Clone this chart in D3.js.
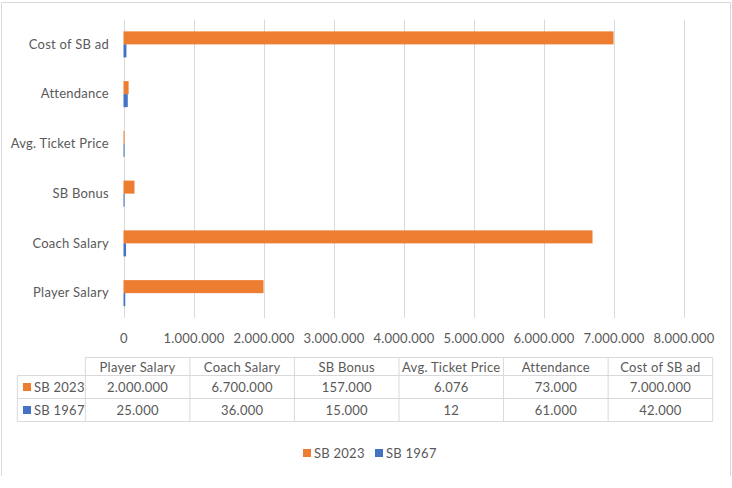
<!DOCTYPE html>
<html>
<head>
<meta charset="utf-8">
<script src="https://cdn.jsdelivr.net/npm/d3@7/dist/d3.min.js"></script>
<style>
  html, body { margin: 0; padding: 0; background: #fff; }
  svg { display: block; font-family: Lato, Calibri, "Liberation Sans", sans-serif; }
  svg text { letter-spacing: 0.25px; }
</style>
</head>
<body>
<svg id="chart" width="732" height="488"></svg>
<script>
const categories = ["Player Salary", "Coach Salary", "SB Bonus", "Avg. Ticket Price", "Attendance", "Cost of SB ad"];
const seriesNames = ["SB 2023", "SB 1967"];
const sb2023 = [2000000, 6700000, 157000, 6076, 73000, 7000000];
const sb1967 = [25000, 36000, 15000, 12, 61000, 42000];
const xTicks = [0, 1000000, 2000000, 3000000, 4000000, 5000000, 6000000, 7000000, 8000000];
const colors = ["#ED7D31", "#4472C4"];

const seriesValues = [sb2023, sb1967];
const locale = d3.formatLocale({ decimal: ",", thousands: ".", grouping: [3], currency: ["", ""] });
const fmt = locale.format(",d");

const svg = d3.select("#chart");
const textColor = "#595959";
const gridColor = "#d9d9d9";
const fs = 13;

// outer frame (left, top, right)
svg.append("path")
  .attr("d", "M1.5,476 L1.5,2.5 L730.5,2.5 L730.5,476")
  .attr("fill", "none").attr("stroke", gridColor).attr("stroke-width", 1);

const x = d3.scaleLinear().domain([0, 8000000]).range([123.5, 683.5]);
const y0 = d3.scaleBand().domain(categories.slice().reverse()).range([19.5, 318])
  .paddingInner(0.4774).paddingOuter(0.2387);
const y1 = d3.scaleBand().domain(seriesNames).range([0, y0.bandwidth()]);

// gridlines
svg.append("g").selectAll("line").data(xTicks).join("line")
  .attr("x1", d => Math.round(x(d)) + 0.5).attr("x2", d => Math.round(x(d)) + 0.5)
  .attr("y1", 19.5).attr("y2", 318)
  .attr("stroke", gridColor).attr("stroke-width", 1);

// x axis labels
const xAxis = d3.axisBottom(x).tickValues(xTicks).tickFormat(fmt).tickSize(0).tickPadding(0);
const gx = svg.append("g").attr("transform", "translate(0,335)").call(xAxis);
gx.select(".domain").remove();
gx.selectAll("text").attr("fill", textColor).attr("font-size", fs).attr("dy", "0.6em")
  .attr("font-family", "Lato, Calibri, sans-serif");

// y axis labels
const yAxis = d3.axisLeft(y0).tickSize(0).tickPadding(0);
const gy = svg.append("g").attr("transform", "translate(109,0)").call(yAxis);
gy.select(".domain").remove();
gy.selectAll("text").attr("fill", textColor).attr("font-size", fs)
  .attr("font-family", "Lato, Calibri, sans-serif");

// bars
const rows = categories.map((c, i) => ({ cat: c, vals: seriesNames.map((s, j) => ({ s, j, v: seriesValues[j][i] })) }));
const g = svg.append("g").selectAll("g").data(rows).join("g")
  .attr("transform", d => `translate(0,${y0(d.cat)})`);
g.selectAll("rect").data(d => d.vals).join("rect")
  .attr("x", x(0))
  .attr("y", d => y1(d.s))
  .attr("width", d => Math.max(1, x(d.v) - x(0)))
  .attr("height", y1.bandwidth())
  .attr("fill", d => colors[d.j]);

// data table
const colX = d3.scaleBand().domain(categories).range([85.3, 712.7]);
const tableLeft = 17.3;
const rowY = [357.5, 375.5, 398.5, 421.5];
const tbl = svg.append("g");
tbl.append("line").attr("x1", colX.range()[0]).attr("x2", colX.range()[1]).attr("y1", rowY[0]).attr("y2", rowY[0]);
[1, 2, 3].forEach(i => tbl.append("line").attr("x1", tableLeft).attr("x2", colX.range()[1]).attr("y1", rowY[i]).attr("y2", rowY[i]));
tbl.append("line").attr("x1", tableLeft).attr("x2", tableLeft).attr("y1", rowY[1]).attr("y2", rowY[3]);
categories.forEach(c => tbl.append("line").attr("x1", colX(c)).attr("x2", colX(c)).attr("y1", rowY[0]).attr("y2", rowY[3]));
tbl.append("line").attr("x1", colX.range()[1]).attr("x2", colX.range()[1]).attr("y1", rowY[0]).attr("y2", rowY[3]);
tbl.selectAll("line").attr("stroke", gridColor).attr("stroke-width", 1);

tbl.selectAll("text.h").data(categories).join("text").attr("class", "h")
  .attr("x", d => colX(d) + colX.bandwidth() / 2).attr("y", (rowY[0] + rowY[1]) / 2)
  .attr("text-anchor", "middle").attr("dominant-baseline", "central")
  .attr("font-size", fs).attr("fill", textColor).text(d => d);

seriesNames.forEach((s, j) => {
  const cy = (rowY[j + 1] + rowY[j + 2]) / 2;
  tbl.append("rect").attr("x", 23).attr("y", cy - 4).attr("width", 8).attr("height", 8).attr("fill", colors[j]);
  tbl.append("text").attr("x", 34).attr("y", cy).attr("dominant-baseline", "central")
    .attr("font-size", fs).attr("fill", textColor).text(s);
  tbl.selectAll("text.v" + j).data(seriesValues[j]).join("text").attr("class", "v" + j)
    .attr("x", (d, i) => colX(categories[i]) + colX.bandwidth() / 2).attr("y", cy)
    .attr("text-anchor", "middle").attr("dominant-baseline", "central")
    .attr("font-size", fs).attr("fill", textColor).text(d => fmt(d));
});

// bottom legend
const legendX = [303, 375];
const leg = svg.append("g");
seriesNames.forEach((s, j) => {
  leg.append("rect").attr("x", legendX[j]).attr("y", 449).attr("width", 8).attr("height", 8).attr("fill", colors[j]);
  leg.append("text").attr("x", legendX[j] + 11).attr("y", 453).attr("dominant-baseline", "central")
    .attr("font-size", fs).attr("fill", textColor).text(s);
});
</script>
</body>
</html>
